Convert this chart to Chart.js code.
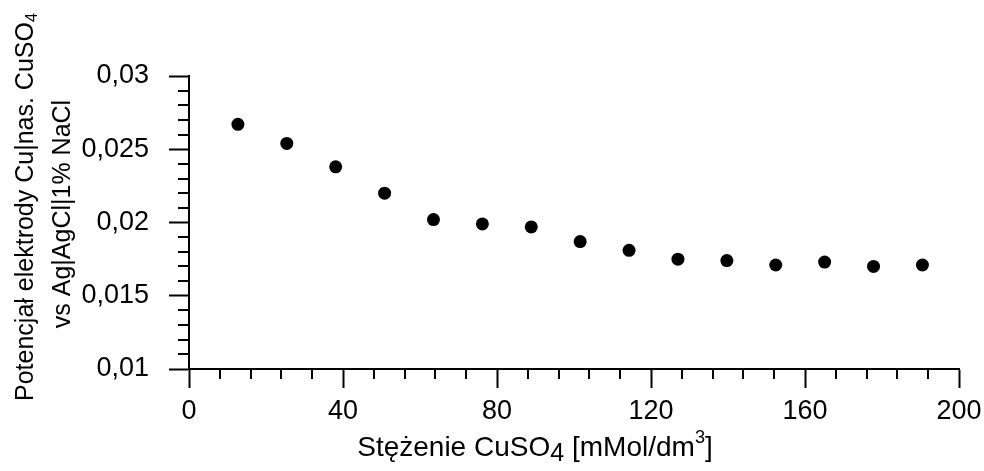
<!DOCTYPE html>
<html>
<head>
<meta charset="utf-8">
<script src="https://cdn.jsdelivr.net/npm/chart.js@4/dist/chart.umd.min.js"></script>
<style>
  html, body { margin: 0; padding: 0; background: #fff; }
  #wrap { width: 984px; height: 471px; }
</style>
</head>
<body>
<div id="wrap"><canvas id="potChart" width="984" height="471"></canvas></div>
<script>
// CuSO4 concentration [mMol/dm3] and measured electrode potential
const concentrations = [12.7, 25.4, 38.1, 50.8, 63.5, 76.2, 88.9, 101.6, 114.3, 127.0, 139.7, 152.4, 165.1, 177.8, 190.5];
const potentials = [0.0267, 0.0254, 0.0238, 0.0220, 0.0202, 0.0199, 0.0197, 0.0187, 0.0181, 0.0175, 0.0174, 0.0171, 0.0173, 0.0170, 0.0171];

const xTicks = [0, 40, 80, 120, 160, 200];
const xTickLabels = ['0', '40', '80', '120', '160', '200'];
const yTicks = [0.01, 0.015, 0.02, 0.025, 0.03];
const yTickLabels = ['0,01', '0,015', '0,02', '0,025', '0,03'];

const FONT = "'Liberation Sans', Arial, sans-serif";

// small ticks between the labelled ones
const minorTicks = {
    id: 'minorTicks',
    afterDraw(chart) {
        const { ctx, chartArea, scales } = chart;
        ctx.save();
        ctx.strokeStyle = '#000';
        ctx.lineWidth = 2;
        ctx.beginPath();
        for (let v = 8; v < 200; v += 8) {
            if (v % 40 === 0) continue;
            const px = Math.round(scales.x.getPixelForValue(v));
            ctx.moveTo(px, chartArea.bottom);
            ctx.lineTo(px, chartArea.bottom + 10);
        }
        for (let i = 11; i < 30; i++) {
            if (i % 5 === 0) continue;
            const py = Math.round(scales.y.getPixelForValue(i / 1000));
            ctx.moveTo(chartArea.left, py);
            ctx.lineTo(chartArea.left - 11, py);
        }
        ctx.stroke();
        ctx.restore();
    }
};

// draw a line of text with sub/superscript parts, centred on (cx, cy)
function drawRich(ctx, parts, cx, cy, size) {
    let total = 0;
    parts.forEach(p => {
        const s = p.scale ? size * p.scale : size;
        ctx.font = s + 'px ' + FONT;
        p.w = ctx.measureText(p.t).width;
        total += p.w;
    });
    let x = cx - total / 2;
    parts.forEach(p => {
        const s = p.scale ? size * p.scale : size;
        ctx.font = s + 'px ' + FONT;
        ctx.fillText(p.t, x, cy + (p.dy || 0) * size);
        x += p.w;
    });
}

const axisTitles = {
    id: 'axisTitles',
    afterDraw(chart) {
        const ctx = chart.ctx;
        ctx.save();
        ctx.fillStyle = '#000';
        ctx.textAlign = 'left';
        ctx.textBaseline = 'middle';

        drawRich(ctx, [
            { t: 'Stężenie CuSO' },
            { t: '4', scale: 0.9, dy: 0.2 },
            { t: ' [mMol/dm' },
            { t: '3', scale: 0.65, dy: -0.35 },
            { t: ']' }
        ], 535, 448, 28);

        ctx.save();
        ctx.translate(26, 207);
        ctx.rotate(-Math.PI / 2);
        drawRich(ctx, [
            { t: 'Potencjał elektrody Cu|nas. CuSO' },
            { t: '4', scale: 0.65, dy: 0.25 }
        ], 0, 0, 25);
        ctx.restore();

        ctx.save();
        ctx.translate(63, 214);
        ctx.rotate(-Math.PI / 2);
        drawRich(ctx, [{ t: 'vs Ag|AgCl|1% NaCl' }], 0, 0, 25);
        ctx.restore();

        ctx.restore();
    }
};

new Chart(document.getElementById('potChart'), {
    type: 'scatter',
    data: {
        datasets: [{
            data: concentrations.map((c, i) => ({ x: c, y: potentials[i] })),
            backgroundColor: '#000',
            borderColor: '#000',
            borderWidth: 0,
            pointRadius: 6.5,
            pointHoverRadius: 6.5
        }]
    },
    options: {
        responsive: false,
        animation: false,
        events: [],
        layout: { padding: { top: 76, right: 25, left: 0, bottom: 0 } },
        plugins: {
            legend: { display: false },
            tooltip: { enabled: false }
        },
        scales: {
            x: {
                type: 'linear',
                min: 0,
                max: 200,
                afterBuildTicks: axis => { axis.ticks = xTicks.map(v => ({ value: v })); },
                afterFit: axis => {
                    axis.height = 102;
                    axis.paddingLeft = 0;
                    axis.paddingRight = 0;
                },
                ticks: {
                    callback: (v, i) => xTickLabels[i],
                    color: '#000',
                    font: { family: FONT, size: 27 },
                    padding: 7,
                    maxRotation: 0
                },
                grid: {
                    drawOnChartArea: false,
                    drawTicks: true,
                    tickLength: 19,
                    tickWidth: 2,
                    tickColor: '#000'
                },
                border: { display: true, color: '#000', width: 2 }
            },
            y: {
                type: 'linear',
                min: 0.01,
                max: 0.03,
                afterBuildTicks: axis => { axis.ticks = yTicks.map(v => ({ value: v })); },
                afterFit: axis => {
                    axis.width = 189;
                    axis.paddingTop = 0;
                    axis.paddingBottom = 0;
                },
                ticks: {
                    callback: (v, i) => yTickLabels[i],
                    color: '#000',
                    font: { family: FONT, size: 27 },
                    padding: 20
                },
                grid: {
                    drawOnChartArea: false,
                    drawTicks: true,
                    tickLength: 20,
                    tickWidth: 2,
                    tickColor: '#000'
                },
                border: { display: true, color: '#000', width: 2 }
            }
        }
    },
    plugins: [minorTicks, axisTitles]
});
</script>
</body>
</html>
